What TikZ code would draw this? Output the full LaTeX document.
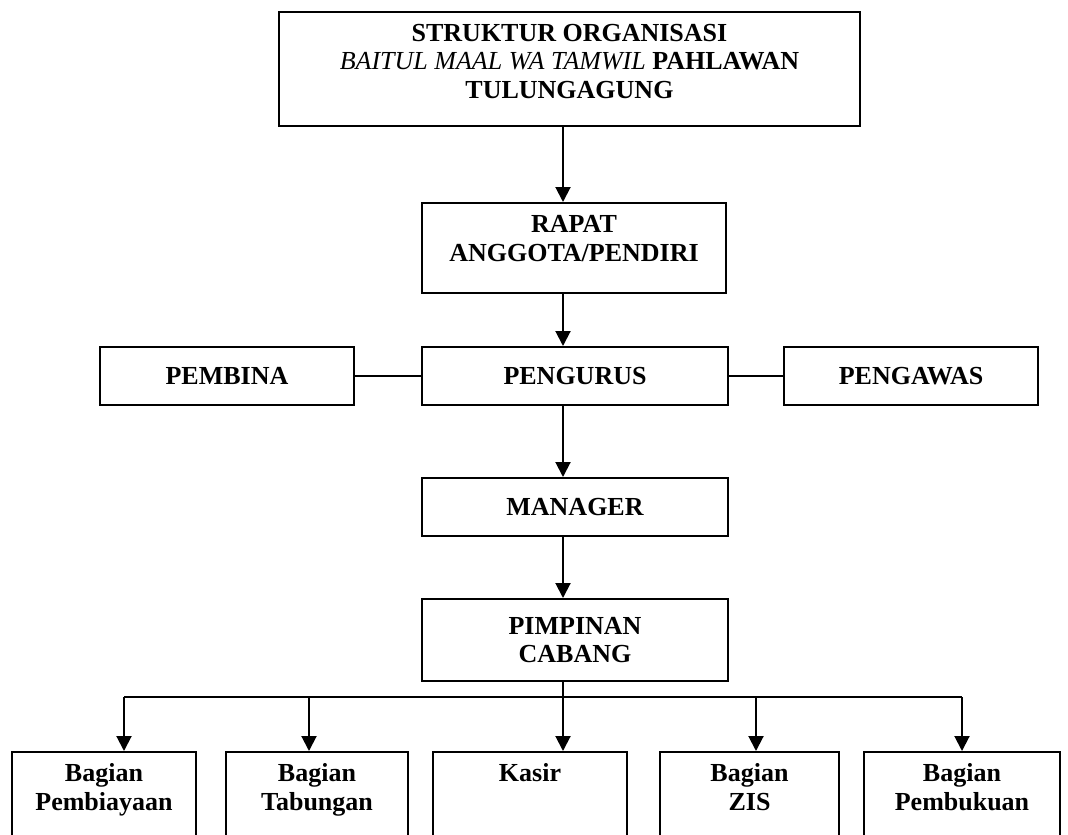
\documentclass[tikz,border=0pt]{standalone}
\usepackage{fontspec}
\setmainfont{Liberation Serif}
\usetikzlibrary{arrows.meta,positioning}

\begin{document}
\begin{tikzpicture}[x=1pt,y=-1pt,>={Triangle[length=15pt,width=15pt]},
 unit/.style={draw,line width=2pt,inner sep=0pt,align=center,font=\fontsize{26}{28.5}\selectfont\bfseries},
 leaf/.style={unit,anchor=north,text height=58pt,text depth=90pt},
 link/.style={line width=2pt}]
\useasboundingbox (0,0) rectangle (1068,835);
\node[unit,minimum width=581pt,minimum height=114pt,text depth=16pt] (judul) at (569.5,69) {STRUKTUR ORGANISASI\\{\mdseries\itshape BAITUL MAAL WA TAMWIL} PAHLAWAN\\TULUNGAGUNG};
\node[unit,minimum width=304pt,minimum height=90pt,text depth=19pt] (rapat) at (574,248) {RAPAT\\ANGGOTA/PENDIRI};
\node[unit,minimum width=306pt,minimum height=58pt] (pengurus) at (575,376) {PENGURUS};
\node[unit,minimum width=254pt,minimum height=58pt] (pembina) at (227,376) {PEMBINA};
\node[unit,minimum width=254pt,minimum height=58pt] (pengawas) at (911,376) {PENGAWAS};
\node[unit,minimum width=306pt,minimum height=58pt] (manager) at (575,507) {MANAGER};
\node[unit,minimum width=306pt,minimum height=82pt] (cabang) at (575,640) {PIMPINAN\\CABANG};
% bagian-bagian di bawah pimpinan cabang
\node[leaf,minimum width=184pt] (pembiayaan) at (104,751) {Bagian\\Pembiayaan};
\node[leaf,minimum width=182pt] (tabungan) at (317,751) {Bagian\\Tabungan};
\node[leaf,minimum width=194pt,text height=29.5pt] (kasir) at (530,751) {Kasir};
\node[leaf,minimum width=179pt] (zis) at (749.5,751) {Bagian\\ZIS};
\node[leaf,minimum width=196pt] (pembukuan) at (962,751) {Bagian\\Pembukuan};
\coordinate (spine) at (563,0);
\draw[link,->] (judul.south -| spine) -- (rapat.north -| spine);
\draw[link,->] (rapat.south -| spine) -- (pengurus.north -| spine);
\draw[link,->] (pengurus.south -| spine) -- (manager.north -| spine);
\draw[link,->] (manager.south -| spine) -- (cabang.north -| spine);
\draw[link] (pembina) -- (pengurus);
\draw[link] (pengurus) -- (pengawas);
\coordinate (b1) at (124,697);
\coordinate (b2) at (309,697);
\coordinate (b3) at (563,697);
\coordinate (b4) at (756,697);
\coordinate (b5) at (962,697);
\draw[link] (cabang.south -| spine) -- (b3);
\draw[link] (b1) -- (b5);
\draw[link,->] (b1) -- (b1 |- pembiayaan.north);
\draw[link,->] (b2) -- (b2 |- tabungan.north);
\draw[link,->] (b3) -- (b3 |- kasir.north);
\draw[link,->] (b4) -- (b4 |- zis.north);
\draw[link,->] (b5) -- (b5 |- pembukuan.north);
\end{tikzpicture}
\end{document}
